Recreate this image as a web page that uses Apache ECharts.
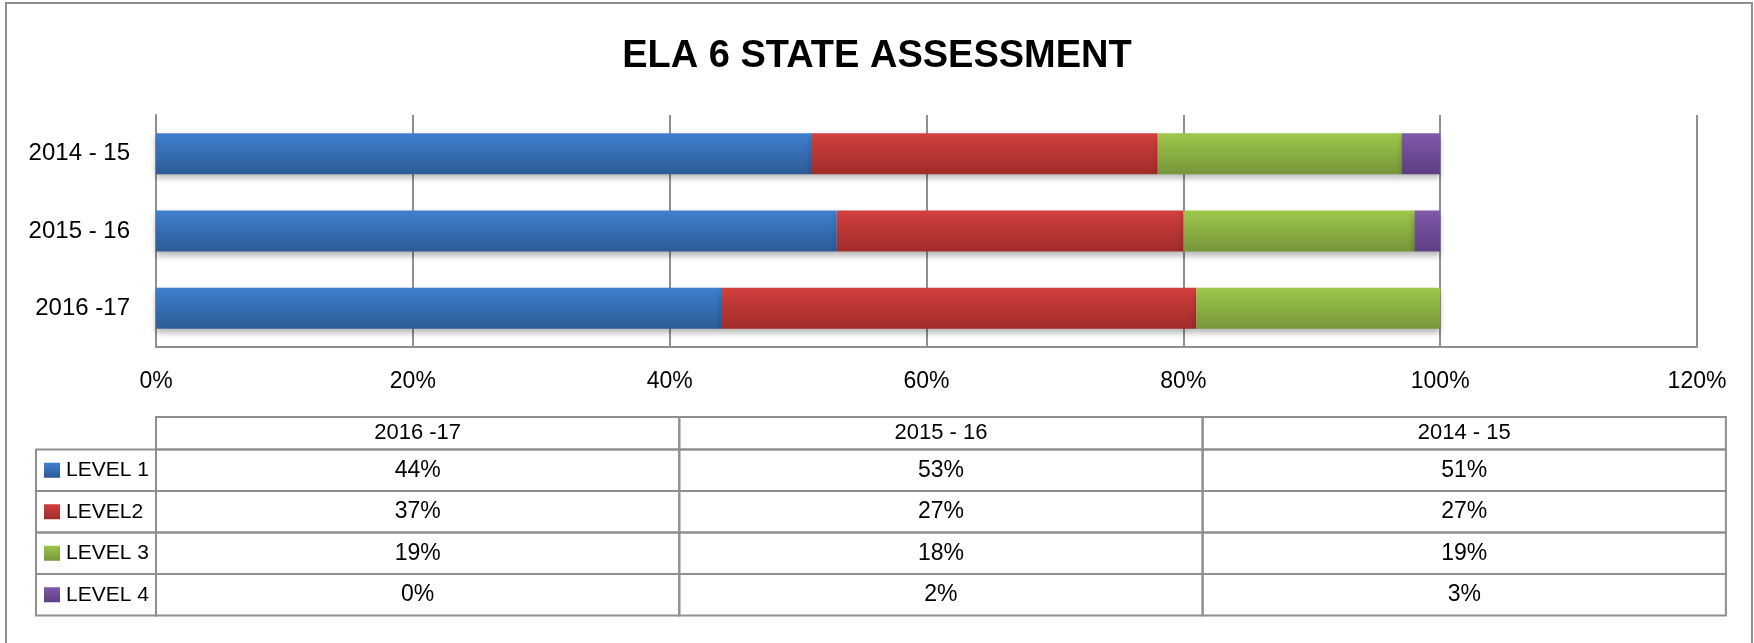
<!DOCTYPE html>
<html>
<head>
<meta charset="utf-8">
<title>ELA 6 STATE ASSESSMENT</title>
<script src="https://cdn.jsdelivr.net/npm/echarts@6/dist/echarts.min.js"></script>
<style>
html, body { margin: 0; padding: 0; background: #fff; }
#chart { width: 1754px; height: 643px; }
</style>
</head>
<body>
<div id="chart"></div>
<script>
var years = ['2016 -17', '2015 - 16', '2014 - 15'];
var levelNames = ['LEVEL 1', 'LEVEL2', 'LEVEL 3', 'LEVEL 4'];
var level1 = [44, 53, 51];
var level2 = [37, 27, 27];
var level3 = [19, 18, 19];
var level4 = [0, 2, 3];
var xTicks = [0, 20, 40, 60, 80, 100, 120];

var levels = [level1, level2, level3, level4];

// top / bottom colour of each bar gradient
var colors = [
    ['#3e80cf', '#2d5b96'],
    ['#d2403d', '#a02c2a'],
    ['#9ec74b', '#76963a'],
    ['#8059ab', '#5d3e82']
];

var font = 'Liberation Sans';
var lineGray = '#8f8f8f';

var grad = function (c) {
    return new echarts.graphic.LinearGradient(0, 0, 0, 1, [
        {offset: 0, color: c[0]},
        {offset: 1, color: c[1]}
    ]);
};

//数据表 (table under the chart)
var buildTable = function () {
    var items = [];
    var tLeft = 156, colW = 523.3, legLeft = 36;
    var headTop = 417, headH = 32.5, rowH = 41.5;
    var rowTop = headTop + headH;
    var border = {fill: null, stroke: lineGray, lineWidth: 2};

    years.forEach(function (y, j) {
        items.push({type: 'rect', shape: {x: tLeft + j * colW, y: headTop, width: colW, height: headH}, style: border});
        items.push({type: 'text', x: tLeft + j * colW + colW / 2, y: headTop + headH / 2,
            style: {text: y, fontSize: 22, fontFamily: font, fill: '#000', align: 'center', verticalAlign: 'middle'}});
    });

    levels.forEach(function (vals, i) {
        var top = rowTop + i * rowH;
        items.push({type: 'rect', shape: {x: legLeft, y: top, width: tLeft - legLeft, height: rowH}, style: border});
        items.push({type: 'rect', shape: {x: 44, y: top + rowH / 2 - 7.5, width: 16, height: 15}, style: {fill: grad(colors[i])}});
        items.push({type: 'text', x: 66, y: top + rowH / 2,
            style: {text: levelNames[i], fontSize: 21, fontFamily: font, fill: '#000', align: 'left', verticalAlign: 'middle'}});
        vals.forEach(function (v, j) {
            items.push({type: 'rect', shape: {x: tLeft + j * colW, y: top, width: colW, height: rowH}, style: border});
            items.push({type: 'text', x: tLeft + j * colW + colW / 2, y: top + rowH / 2,
                style: {text: v + '%', fontSize: 23, fontFamily: font, fill: '#000', align: 'center', verticalAlign: 'middle'}});
        });
    });

    // outer frame of the chart area
    items.push({type: 'rect', shape: {x: 6, y: 3, width: 1746, height: 700}, style: border});
    return items;
};

var barChart = function () {
    var box = document.getElementById('chart');
    var myChart = echarts.init(box);

    var series = levels.map(function (vals, i) {
        return {
            name: levelNames[i],
            type: 'bar',
            stack: 'total',
            barWidth: 41,
            data: vals,
            itemStyle: {
                color: grad(colors[i]),
                shadowColor: 'rgba(0, 0, 0, 0.28)',
                shadowBlur: 6,
                shadowOffsetY: 4
            }
        };
    });

    var options = {
        animation: false,
        title: {
            text: 'ELA 6 STATE ASSESSMENT',
            left: 'center',
            top: 33,
            textStyle: {fontSize: 38, fontWeight: 'bold', fontFamily: font, color: '#000'}
        },
        grid: {left: 156, right: 57, top: 115, bottom: 296},
        xAxis: {
            type: 'value',
            min: xTicks[0],
            max: xTicks[xTicks.length - 1],
            interval: xTicks[1] - xTicks[0],
            axisLine: {show: true, lineStyle: {color: lineGray, width: 2}},
            axisTick: {show: false},
            splitLine: {show: true, lineStyle: {color: lineGray, width: 2}},
            axisLabel: {formatter: '{value}%', margin: 23, fontSize: 23, fontFamily: font, color: '#000'}
        },
        yAxis: {
            type: 'category',
            data: years,
            axisLine: {show: true, lineStyle: {color: lineGray, width: 2}},
            axisTick: {show: false},
            axisLabel: {margin: 26, fontSize: 24, fontFamily: font, color: '#000'}
        },
        graphic: buildTable(),
        series: series
    };

    myChart.setOption(options);
};

barChart();
</script>
</body>
</html>
